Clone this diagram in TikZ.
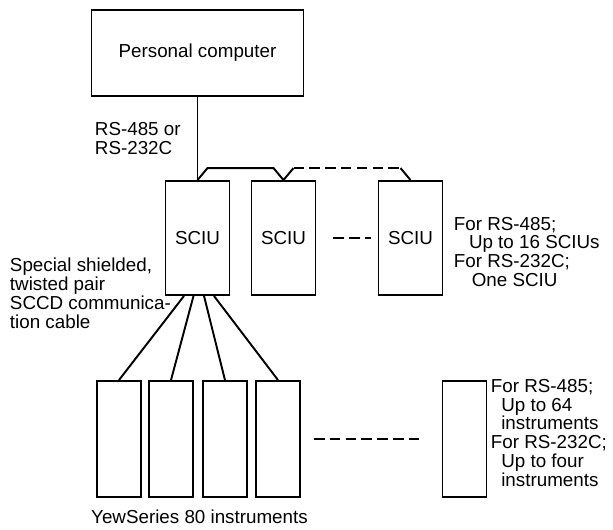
\documentclass[tikz,border=0pt]{standalone}
\usepackage{fontspec}
\setmainfont{Liberation Sans}
\usetikzlibrary{calc}

\begin{document}
\begin{tikzpicture}[x=0.02cm, y=-0.02cm,
  font=\fontsize{10.7}{10.8}\selectfont, line width=1.1pt,
  box/.style={draw, line width=1.1pt, inner sep=0pt},
  pcbox/.style={box, minimum width=4.24cm, minimum height=1.72cm},
  unitbox/.style={box, minimum width=1.28cm, minimum height=2.28cm},
  instbox/.style={box, minimum width=0.88cm, minimum height=2.32cm},
  lbl/.style={align=left, inner sep=0pt},
  broken/.style={dash pattern=on 6pt off 3pt}]
\useasboundingbox (0,0) rectangle (613,529);
\node[pcbox] (pc) at (197.5,53) {Personal computer};
\node[unitbox] (sa) at (197.5,238) {SCIU};
\node[unitbox] (sb) at (283.5,238) {SCIU};
\node[unitbox] (sc) at (410.5,238) {SCIU};
\node[instbox] (ia) at (119,439) {};
\node[instbox] (ib) at (171,439) {};
\node[instbox] (ic) at (225,439) {};
\node[instbox] (id) at (278,439) {};
\node[instbox] (ie) at (464.5,439) {};
\node[lbl, anchor=west] (rs) at (94,138.5) {RS-485 or\\RS-232C};
\node[lbl, anchor=west] (maxunit) at (453,252) {For RS-485;\\\hspace*{0.8em}Up to 16 SCIUs\\For RS-232C;\\\hspace*{0.95em}One SCIU};
\node[lbl, anchor=west] (cable) at (9,293.5) {Special shielded,\\twisted pair\\SCCD communica-\\tion cable};
\node[lbl, anchor=west] (maxinst) at (490,433) {For RS-485;\\\hspace*{0.55em}Up to 64\\\hspace*{0.55em}instruments\\For RS-232C;\\\hspace*{0.55em}Up to four\\\hspace*{0.55em}instruments};
\node[lbl] (yew) at (199.5,517) {YewSeries 80 instruments};
% bus to the SCIUs
\draw (pc) -- (sa.north);
\draw (sa.north) -- ++(10,-12) -- ($(sb.north)+(-10,-12)$) -- (sb.north) -- ++(10,-12);
\draw[broken] ($(sb.north)+(10,-12)$) -- ($(sc.north)+(-10,-12)$);
\draw ($(sc.north)+(-10,-12)$) -- (sc.north);
\draw[broken] ($(sb.east)+(17,0)$) -- ($(sc.west)+(-7,0)$);
% SCCD cables
\draw ($(sa.south)+(-13.5,0)$) -- (ia.north);
\draw ($(sa.south)+(-4,0)$) -- (ib.north);
\draw ($(sa.south)+(6.5,0)$) -- (ic.north);
\draw ($(sa.south)+(16.5,0)$) -- (id.north);
\draw[broken] ($(id.east)+(13,0)$) -- ($(ie.west)+(-23,0)$);
\end{tikzpicture}
\end{document}
